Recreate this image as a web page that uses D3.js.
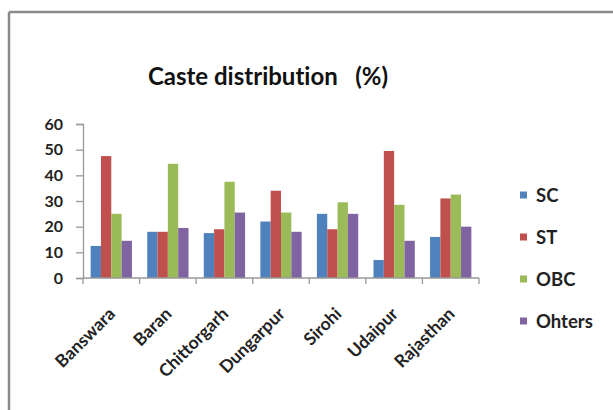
<!DOCTYPE html>
<html>
<head>
<meta charset="utf-8">
<script src="https://cdn.jsdelivr.net/npm/d3@7"></script>
<style>
  html, body { margin: 0; padding: 0; background: #fff; }
  svg { display: block; font-family: Lato, "Open Sans", sans-serif; font-variant-ligatures: none; }
</style>
</head>
<body>
<svg id="chart" width="613" height="410"></svg>
<script>
// Districts shown on the x axis
const districts = ["Banswara", "Baran", "Chittorgarh", "Dungarpur", "Sirohi", "Udaipur", "Rajasthan"];
// Caste groups (legend order)
const groups = ["SC", "ST", "OBC", "Ohters"];
// Share of each group per district, %
const scValues     = [12.5, 18, 17.5, 22, 25, 7, 16];
const stValues     = [47.5, 18, 19, 34, 19, 49.5, 31];
const obcValues    = [25, 44.5, 37.5, 25.5, 29.5, 28.5, 32.5];
const othersValues = [14.5, 19.5, 25.5, 18, 25, 14.5, 20];
const yTicks = [0, 10, 20, 30, 40, 50, 60];
const colors = ["#4F81BD", "#C0504D", "#9BBB59", "#8064A2"];

const seriesValues = [scValues, stValues, obcValues, othersValues];
const rows = districts.map((d, i) => ({
  district: d,
  values: groups.map((g, k) => ({ group: g, value: seriesValues[k][i] }))
}));

const svg = d3.select("#chart");

// Chart frame (top and left edges visible)
svg.append("line").attr("x1", 9).attr("y1", 12).attr("x2", 613).attr("y2", 12)
  .attr("stroke", "#8a8a8a").attr("stroke-width", 2.5);
svg.append("line").attr("x1", 9).attr("y1", 12).attr("x2", 9).attr("y2", 410)
  .attr("stroke", "#8a8a8a").attr("stroke-width", 2.5);

// Title
svg.append("text")
  .attr("x", 268).attr("y", 85)
  .attr("text-anchor", "middle")
  .attr("font-size", 24).attr("font-weight", "bold").attr("fill", "#111")
  .style("white-space", "pre")
  .text("Caste distribution   (%)");

const plot = { left: 83, right: 479, top: 124, bottom: 278 };

const x0 = d3.scaleBand().domain(districts).range([plot.left, plot.right]).paddingInner(0.27).paddingOuter(0.135);
const x1 = d3.scaleBand().domain(groups).range([0, x0.bandwidth()]);
const y = d3.scaleLinear().domain([0, 60]).range([plot.bottom, plot.top]);

// Bars
const g = svg.append("g");
g.selectAll("g.district").data(rows).join("g")
  .attr("transform", d => `translate(${x0(d.district)},0)`)
  .selectAll("rect").data(d => d.values).join("rect")
  .attr("x", d => x1(d.group))
  .attr("width", x1.bandwidth())
  .attr("y", d => y(d.value))
  .attr("height", d => y(0) - y(d.value))
  .attr("fill", (d, k) => colors[k]);

// Y axis
const yAxis = svg.append("g")
  .attr("transform", `translate(${plot.left},0)`)
  .call(d3.axisLeft(y).tickValues(yTicks).tickSize(7).tickPadding(13));
yAxis.select(".domain").attr("stroke", "#999").attr("stroke-width", 1.3);
yAxis.selectAll(".tick line").attr("stroke", "#999").attr("stroke-width", 1.3);
yAxis.selectAll(".tick text")
  .attr("font-size", 16).attr("font-weight", "bold").attr("fill", "#222")
  .attr("font-family", "Lato, sans-serif");

// X axis with ticks on category boundaries
const xAxisG = svg.append("g").attr("transform", `translate(0,${plot.bottom})`);
xAxisG.append("line").attr("x1", plot.left).attr("x2", plot.right)
  .attr("stroke", "#999").attr("stroke-width", 1.3);
const step = (plot.right - plot.left) / districts.length;
xAxisG.selectAll("line.tick").data(d3.range(districts.length + 1)).join("line")
  .attr("class", "tick")
  .attr("x1", i => plot.left + i * step).attr("x2", i => plot.left + i * step)
  .attr("y1", 0).attr("y2", 6)
  .attr("stroke", "#999").attr("stroke-width", 1.3);

// Rotated category labels
xAxisG.selectAll("text").data(districts).join("text")
  .attr("transform", d => `translate(${x0(d) + x0.bandwidth() / 2 + 5},${37}) rotate(-45)`)
  .attr("text-anchor", "end")
  .attr("font-size", 17.5).attr("font-weight", "bold").attr("fill", "#222")
  .text(d => d);

// Legend
const legend = svg.append("g").attr("transform", "translate(520,195)");
const item = legend.selectAll("g").data(groups).join("g")
  .attr("transform", (d, i) => `translate(0,${i * 42})`);
item.append("rect").attr("x", 0).attr("y", -3.5).attr("width", 7).attr("height", 7)
  .attr("fill", (d, i) => colors[i]);
item.append("text").attr("x", 16).attr("y", 6.5)
  .attr("font-size", 18.5).attr("font-weight", "bold").attr("fill", "#222")
  .text(d => d);
</script>
</body>
</html>
